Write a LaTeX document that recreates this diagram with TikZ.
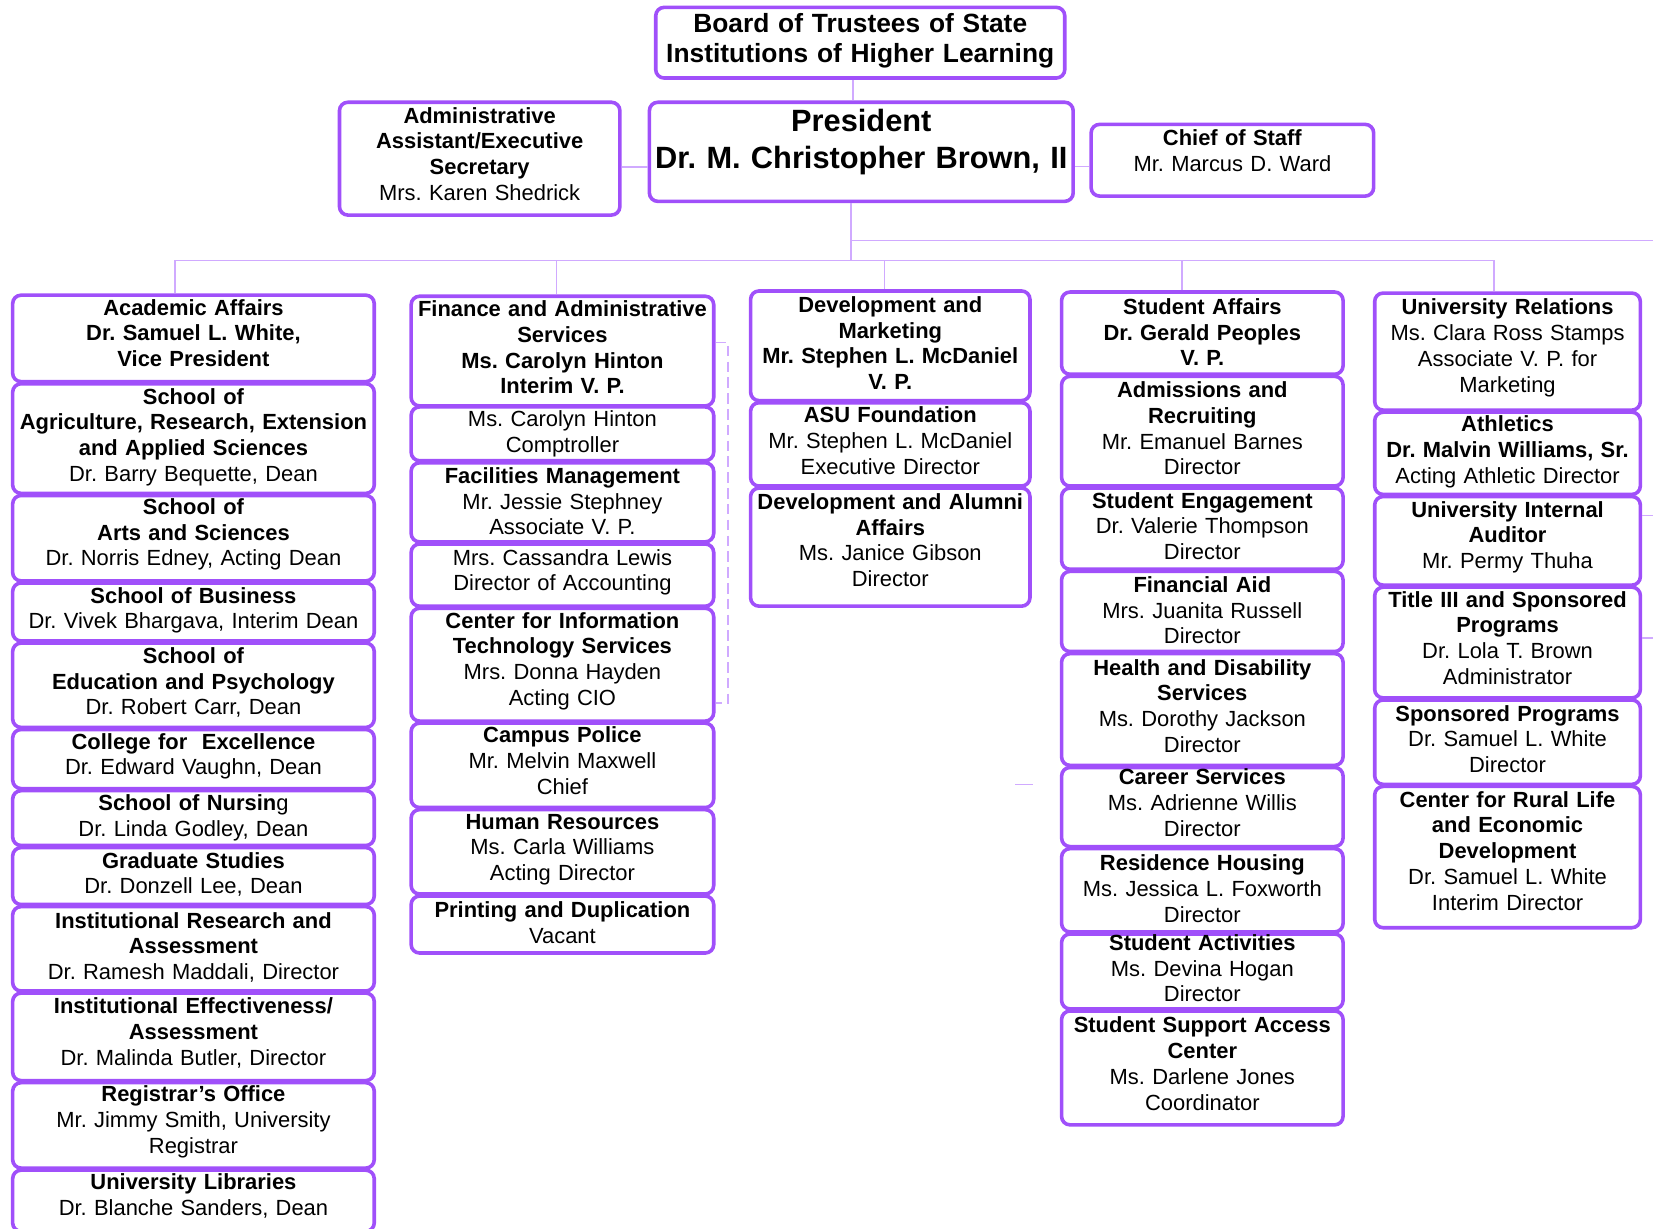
\documentclass[tikz,border=0pt]{standalone}
\usepackage{fontspec}
\setmainfont{Liberation Sans}
\definecolor{boxline}{RGB}{160,80,250}
\definecolor{linkline}{RGB}{208,170,255}
\newcommand\liftby[1]{\par\vspace{#1}}
\begin{document}
\frenchspacing
\begin{tikzpicture}[x=1pt,y=-1pt,
    lift/.style={execute at end node={\liftby{#1}}},
    unit/.style={draw=boxline,line width=3.4pt,rounded corners=8pt,fill=white,inner sep=0pt,align=center,font=\fontsize{20.8}{24.4}\selectfont},
    colA/.style={unit,text width=339pt,minimum width=343pt},
    colB/.style={unit,text width=283pt,minimum width=287pt},
    colC/.style={unit,text width=261pt,minimum width=265pt},
    colD/.style={unit,text width=263pt,minimum width=267pt},
    colE/.style={unit,text width=248pt,minimum width=252pt},
    link/.style={draw=linkline,line width=1.6pt}]
    \useasboundingbox (0,0) rectangle (1568,1165);

    \node[unit,text width=384pt,minimum width=388pt,minimum height=67pt,font=\fontsize{25}{29}\selectfont\bfseries,lift=4pt] (board) at (816,40.5) {Board of Trustees of State\\Institutions of Higher Learning};
    \node[unit,text width=398pt,minimum width=402pt,minimum height=94pt,font=\fontsize{29.2}{35}\selectfont\bfseries,lift=19pt] (pres) at (817,144) {President\\Dr. M. Christopher Brown, II};
    \node[unit,text width=262pt,minimum width=266pt,minimum height=107pt,lift=9pt] (admin) at (455,150.5) {\textbf{Administrative\\Assistant/Executive\\Secretary}\\Mrs. Karen Shedrick};
    \node[unit,text width=264pt,minimum width=268pt,minimum height=68pt,lift=18pt] (chief) at (1169,152) {\textbf{Chief of Staff}\\Mr. Marcus D. Ward};

    \node[colA,minimum height=82pt,lift=10pt] (acad) at (183.5,321) {\textbf{Academic Affairs\\Dr. Samuel L. White,\\Vice President}};
    \node[colA,minimum height=104pt,lift=3pt] (agri) at (183.5,416) {\textbf{School of\\Agriculture, Research, Extension\\and Applied Sciences}\\Dr. Barry Bequette, Dean};
    \node[colA,minimum height=81pt,lift=7pt] (arts) at (183.5,510.5) {\textbf{School of\\Arts and Sciences}\\Dr. Norris Edney, Acting Dean};
    \node[colA,minimum height=55pt,lift=3pt] (busi) at (183.5,580.5) {\textbf{School of Business}\\Dr. Vivek Bhargava, Interim Dean};
    \node[colA,minimum height=80pt,lift=5pt] (edu) at (183.5,650) {\textbf{School of\\Education and Psychology}\\Dr. Robert Carr, Dean};
    \node[colA,minimum height=56pt,lift=5pt] (excel) at (183.5,720) {\textbf{College for\ \ Excellence}\\Dr. Edward Vaughn, Dean};
    \node[colA,minimum height=52pt] (nurs) at (183.5,776) {\textbf{School of Nursin}g\\Dr. Linda Godley, Dean};
    \node[colA,minimum height=54pt,lift=3pt] (grad) at (183.5,831) {\textbf{Graduate Studies}\\Dr. Donzell Lee, Dean};
    \node[colA,minimum height=80pt,lift=3pt] (inres) at (183.5,900) {\textbf{Institutional Research and\\Assessment}\\Dr. Ramesh Maddali, Director};
    \node[colA,minimum height=83pt,lift=7pt] (ineff) at (183.5,983.5) {\textbf{Institutional Effectiveness/\\Assessment}\\Dr. Malinda Butler, Director};
    \node[colA,minimum height=81pt,lift=7pt] (reg) at (183.5,1067.5) {\textbf{Registrar's Office}\\Mr. Jimmy Smith, University\\Registrar};
    \node[colA,minimum height=58pt,lift=9pt] (lib) at (183.5,1139) {\textbf{University Libraries}\\Dr. Blanche Sanders, Dean};

    \node[colB,minimum height=104pt,lift=7pt] (fin) at (533.5,333) {\textbf{Finance and Administrative\\Services\\Ms. Carolyn Hinton\\Interim V. P.}};
    \node[colB,minimum height=51pt] (comp) at (533.5,411.5) {Ms. Carolyn Hinton\\Comptroller};
    \node[colB,minimum height=75pt,lift=2pt] (facil) at (533.5,476.5) {\textbf{Facilities Management}\\Mr. Jessie Stephney\\Associate V. P.};
    \node[colB,minimum height=59pt,lift=5pt] (acct) at (533.5,545.5) {Mrs. Cassandra Lewis\\Director of Accounting};
    \node[colB,minimum height=107pt,lift=7pt] (cits) at (533.5,630.5) {\textbf{Center for Information\\Technology Services}\\Mrs. Donna Hayden\\Acting CIO};
    \node[colB,minimum height=80pt,lift=9pt] (police) at (533.5,726) {\textbf{Campus Police}\\Mr. Melvin Maxwell\\Chief};
    \node[colB,minimum height=80pt,lift=4pt] (hr) at (533.5,808) {\textbf{Human Resources}\\Ms. Carla Williams\\Acting Director};
    \node[colB,minimum height=54pt,lift=4pt] (print) at (533.5,877) {\textbf{Printing and Duplication}\\Vacant};

    \node[colC,minimum height=104pt,lift=5pt] (dev) at (844.5,328) {\textbf{Development and\\Marketing\\Mr. Stephen L. McDaniel\\V. P.}};
    \node[colC,minimum height=79pt,lift=7pt] (asu) at (844.5,421.5) {\textbf{ASU Foundation}\\Mr. Stephen L. McDaniel\\Executive Director};
    \node[colC,minimum height=112pt,lift=13pt] (alum) at (844.5,519) {\textbf{Development and Alumni\\Affairs}\\Ms. Janice Gibson\\Director};

    \node[colD,minimum height=78pt,lift=2pt] (stud) at (1140.5,316) {\textbf{Student Affairs\\Dr. Gerald Peoples\\V. P.}};
    \node[colD,minimum height=104pt,lift=5pt] (adm) at (1140.5,409) {\textbf{Admissions and\\Recruiting}\\Mr. Emanuel Barnes\\Director};
    \node[colD,minimum height=77pt,lift=5pt] (eng) at (1140.5,501.5) {\textbf{Student Engagement}\\Dr. Valerie Thompson\\Director};
    \node[colD,minimum height=76pt,lift=2pt] (aid) at (1140.5,580) {\textbf{Financial Aid}\\Mrs. Juanita Russell\\Director};
    \node[colD,minimum height=106pt,lift=7pt] (health) at (1140.5,673) {\textbf{Health and Disability\\Services}\\Ms. Dorothy Jackson\\Director};
    \node[colD,minimum height=75pt,lift=8pt] (career) at (1140.5,765.5) {\textbf{Career Services}\\Ms. Adrienne Willis\\Director};
    \node[colD,minimum height=79pt,lift=3pt] (res) at (1140.5,844.5) {\textbf{Residence Housing}\\Ms. Jessica L. Foxworth\\Director};
    \node[colD,minimum height=71pt,lift=6pt] (act) at (1140.5,921.5) {\textbf{Student Activities}\\Ms. Devina Hogan\\Director};
    \node[colD,minimum height=108pt,lift=8pt] (ssac) at (1140.5,1013) {\textbf{Student Support Access\\Center}\\Ms. Darlene Jones\\Coordinator};

    \node[colE,minimum height=111pt,lift=7pt] (urel) at (1430,333.5) {\textbf{University Relations}\\Ms. Clara Ross Stamps\\Associate V. P. for\\Marketing};
    \node[colE,minimum height=78pt,lift=3pt] (ath) at (1430,430) {\textbf{Athletics\\Dr. Malvin Williams, Sr.}\\Acting Athletic Director};
    \node[colE,minimum height=84pt,lift=7pt] (audit) at (1430,513) {\textbf{University Internal\\Auditor}\\Mr. Permy Thuha};
    \node[colE,minimum height=105pt,lift=9pt] (title) at (1430,609.5) {\textbf{Title III and Sponsored\\Programs}\\Dr. Lola T. Brown\\Administrator};
    \node[colE,minimum height=80pt,lift=6pt] (spons) at (1430,704) {\textbf{Sponsored Programs}\\Dr. Samuel L. White\\Director};
    \node[colE,minimum height=134pt,lift=12pt] (rural) at (1430,813) {\textbf{Center for Rural Life\\and Economic\\Development}\\Dr. Samuel L. White\\Interim Director};

    \coordinate (bus) at (807,247);
    \coordinate (offpage) at (1568,228);
    \draw[link] ([xshift=-7pt]board.south) -- ([xshift=-7pt]board.south |- pres.north);
    \draw[link] ([yshift=-8pt]admin.east) -- ([yshift=-8pt]admin.east -| pres.west);
    \draw[link] ([yshift=-6pt]chief.west) -- ([yshift=-6pt]chief.west -| pres.east);
    \draw[link] ([xshift=-10pt]pres.south) -- (bus);
    \draw[link] (bus |- offpage) -- (offpage);
    \draw[link] ([xshift=-17.5pt]acad.north) |- (bus) -| ([xshift=-13pt]urel.north);
    \draw[link] ([xshift=-5.5pt]fin.north) -- ([xshift=-5.5pt]fin.north |- bus);
    \draw[link] ([xshift=-5.5pt]dev.north) -- ([xshift=-5.5pt]dev.north |- bus);
    \draw[link] ([xshift=-19.5pt]stud.north) -- ([xshift=-19.5pt]stud.north |- bus);
    \draw[link,dash pattern=on 10pt off 5pt] ([yshift=8pt]fin.east) -- ++(12,0) |- ([yshift=-36.5pt]cits.east);
    \draw[link] (963,744) -- (980,744);
    \draw[link] ([yshift=24pt]audit.east) -- ++(14,0);
    \draw[link] ([yshift=4.5pt]title.east) -- ++(14,0);
\end{tikzpicture}
\end{document}
